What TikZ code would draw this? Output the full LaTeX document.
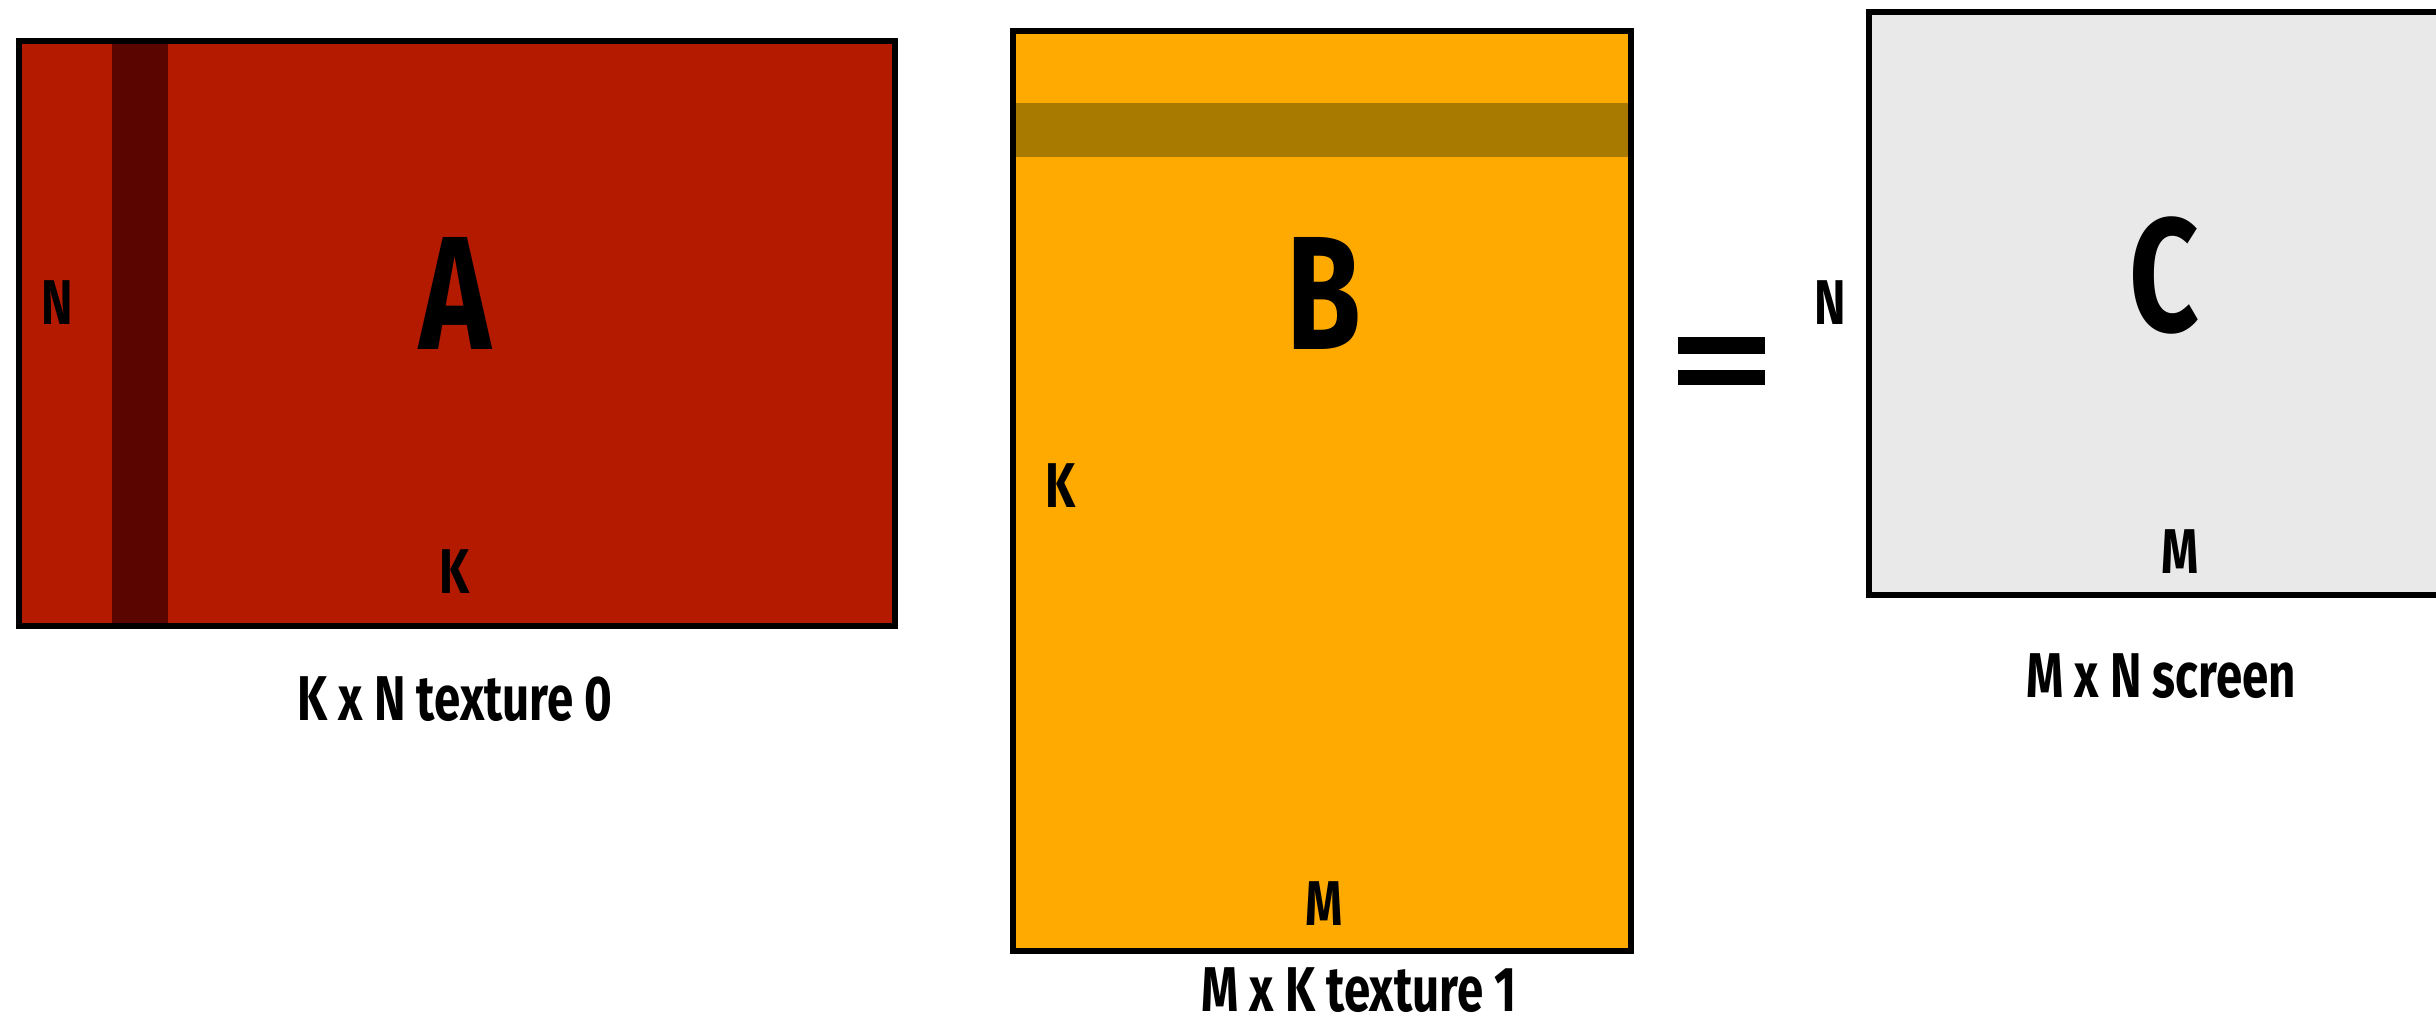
\documentclass[tikz,border=0pt]{standalone}
\usepackage{fontspec}
\setmainfont{Fira Sans}
\usepackage{tikz}
\usepackage{xcolor}
\definecolor{texA}{HTML}{B31A00}
\definecolor{texAdark}{HTML}{5A0500}
\definecolor{texB}{HTML}{FFAA00}
\definecolor{texBdark}{HTML}{A87B00}
\definecolor{screenC}{HTML}{E9E9E9}

\begin{document}
\begin{tikzpicture}[line cap=butt,
  mat/.style={draw=black,line width=1.8pt},
  lbl/.style={font=\bfseries\fontsize{18}{20}\selectfont,xscale=0.75,inner sep=0pt},
  big/.style={font=\bfseries\fontsize{46}{50}\selectfont,xscale=0.75,inner sep=0pt}]
\useasboundingbox (0,0) rectangle (24.36,10.28);
\clip (0,0) rectangle (24.36,10.28);
% texture 0
\fill[texA] (0.19,9.87) rectangle (8.95,4.02);
\fill[texAdark] (1.12,9.87) rectangle (1.68,4.02);
\draw[mat] (0.19,9.87) rectangle (8.95,4.02);
\node[lbl] (nA) at (0.57,7.25) {N};
\node[big] (A) at (4.55,7.35) {A};
\node[lbl] (kA) at (4.55,4.56) {K};
\node[lbl] (capA) at (4.55,3.29) {K x N texture 0};
% texture 1
\fill[texB] (10.13,9.97) rectangle (16.31,0.77);
\fill[texBdark] (10.13,9.25) rectangle (16.31,8.71);
\draw[mat] (10.13,9.97) rectangle (16.31,0.77);
\node[big] (B) at (13.24,7.35) {B};
\node[lbl] (kB) at (10.61,5.42) {K};
\node[lbl] (mB) at (13.24,1.24) {M};
\node[lbl] (capB) at (13.59,0.38) {M x K texture 1};
% equals
\fill (16.78,6.91) rectangle (17.65,6.74);
\fill (16.78,6.58) rectangle (17.65,6.43);
% screen
\draw[mat,fill=screenC] (18.69,10.16) rectangle (24.6,4.33);
\node[lbl] (nC) at (18.30,7.25) {N};
\node[big] (C) at (21.64,7.53) {C};
\node[lbl] (mC) at (21.80,4.76) {M};
\node[lbl] (capC) at (21.61,3.52) {M x N screen};
\end{tikzpicture}
\end{document}
